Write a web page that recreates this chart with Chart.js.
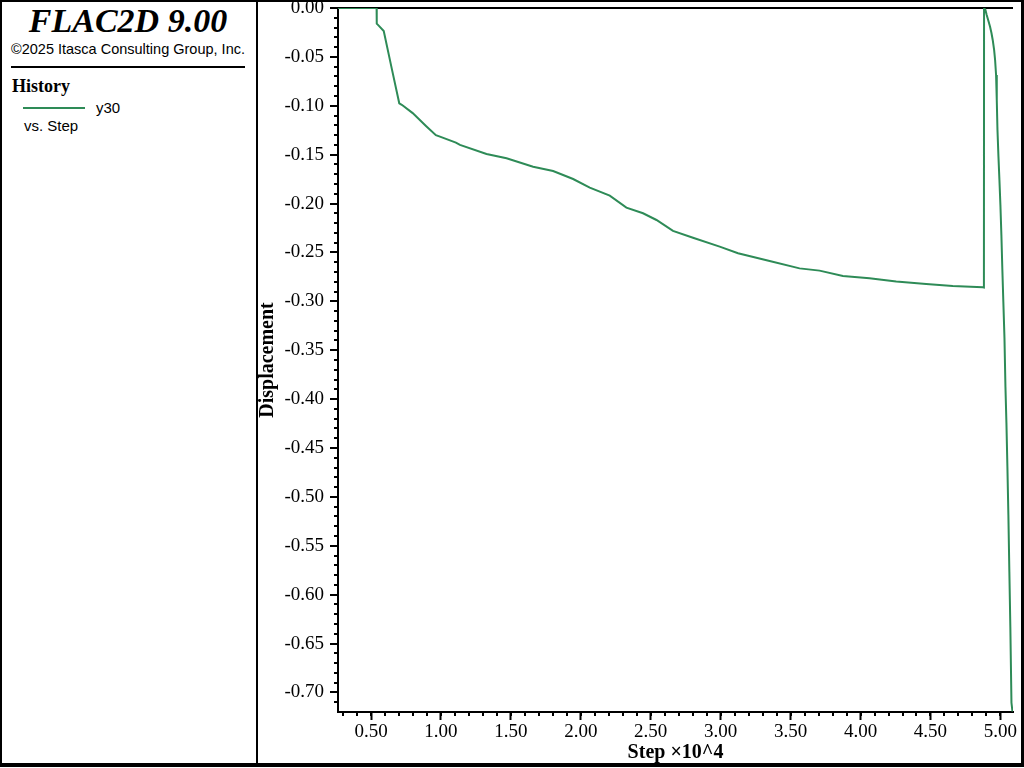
<!DOCTYPE html>
<html>
<head>
<meta charset="utf-8">
<script src="https://cdn.jsdelivr.net/npm/chart.js@4.4.1/dist/chart.umd.min.js"></script>
<style>
  body { margin: 0; background: #fff; }
  #frame { position: absolute; left: 0; top: 0; width: 1024px; height: 767px; box-sizing: border-box;
           border: solid #000; border-width: 2px 3px 4px 2px; }
  #divider { position: absolute; left: 256px; top: 0; width: 2px; height: 767px; background: #000; }
  #chart { position: absolute; left: 258px; top: 0; }
  .t { position: absolute; white-space: nowrap; line-height: 1; color: #000; }
  .serif { font-family: "Liberation Serif", "Times New Roman", serif; }
  .sans { font-family: "Liberation Sans", Arial, sans-serif; }
</style>
</head>
<body>
<div id="frame"></div>
<div id="divider"></div>

<!-- left info panel -->
<div class="t serif" style="left:0;width:256px;text-align:center;top:4px;font-size:34px;font-weight:bold;font-style:italic;">FLAC2D 9.00</div>
<div class="t sans" style="left:0;width:256px;text-align:center;top:42px;font-size:14.5px;">&copy;2025 Itasca Consulting Group, Inc.</div>
<div style="position:absolute;left:11px;top:66px;width:234px;height:2px;background:#000;"></div>
<div class="t serif" style="left:12px;top:77px;font-size:18px;font-weight:bold;">History</div>
<div style="position:absolute;left:23px;top:107px;width:62px;height:2px;background:#2e8b57;"></div>
<div class="t sans" style="left:96px;top:100px;font-size:15px;">y30</div>
<div class="t sans" style="left:24px;top:118px;font-size:15px;">vs. Step</div>

<canvas id="chart" width="763" height="763"></canvas>

<script>
// history y30: step (x10^4) vs displacement
const steps = [
  0.264, 0.540, 0.541, 0.555, 0.591, 0.650, 0.702, 0.720, 0.798, 0.893,
  0.964, 0.993, 1.107, 1.136, 1.326, 1.469, 1.659, 1.802, 1.945, 2.064,
  2.207, 2.326, 2.445, 2.541, 2.659, 2.802, 2.993, 3.124, 3.350, 3.564,
  3.707, 3.874, 4.064, 4.255, 4.469, 4.659, 4.874, 4.882, 4.883, 4.886,
  4.893, 4.902, 4.916, 4.926, 4.936, 4.945, 4.955, 4.962, 4.969, 4.974,
  4.979, 4.986, 4.993, 5.000, 5.007, 5.014, 5.021, 5.029, 5.036, 5.043,
  5.050, 5.057, 5.064, 5.071, 5.079, 5.086
];
const displacement = [
  0, 0, -0.016, -0.018, -0.0235, -0.063, -0.0975, -0.099, -0.1075, -0.1206,
  -0.130, -0.1316, -0.1377, -0.140, -0.1493, -0.1537, -0.1623, -0.1667, -0.1749, -0.1837,
  -0.1919, -0.2042, -0.2099, -0.2168, -0.2280, -0.2349, -0.2441, -0.2508, -0.2587, -0.2663,
  -0.2686, -0.2740, -0.2764, -0.2798, -0.2822, -0.2843, -0.2856, -0.2858, 0, 0,
  -0.002, -0.0072, -0.014, -0.0191, -0.0256, -0.0327, -0.0429, -0.0532, -0.0685, -0.094,
  -0.1247, -0.152, -0.176, -0.2014, -0.2321, -0.2679, -0.3006, -0.3374, -0.3875, -0.4243,
  -0.4693, -0.5184, -0.5767, -0.6329, -0.7106, -0.7195
];

// tick labels
const xTicks = [0.5, 1.0, 1.5, 2.0, 2.5, 3.0, 3.5, 4.0, 4.5, 5.0];
const yTicks = [0, -0.05, -0.10, -0.15, -0.20, -0.25, -0.30, -0.35, -0.40,
                -0.45, -0.50, -0.55, -0.60, -0.65, -0.70];

// minor tick positions
const xMinor = [];
for (let i = 3; i <= 50; i++) xMinor.push(i / 10);
const yMinor = [];
for (let i = 1; i <= 71; i++) yMinor.push(-i / 100);

const serif = '"Liberation Serif", "Times New Roman", serif';

// short minor ticks, drawn through the chart scales
const minorTicks = {
  id: 'minorTicks',
  afterDraw(chart) {
    const { ctx, chartArea, scales } = chart;
    ctx.save();
    ctx.strokeStyle = '#000';
    ctx.lineWidth = 2;
    ctx.beginPath();
    yMinor.forEach(v => {
      const p = Math.round(scales.y.getPixelForValue(v));
      ctx.moveTo(chartArea.left - 4, p);
      ctx.lineTo(chartArea.left, p);
    });
    xMinor.forEach(v => {
      const p = Math.round(scales.x.getPixelForValue(v));
      ctx.moveTo(p, chartArea.bottom);
      ctx.lineTo(p, chartArea.bottom + 4);
    });
    ctx.stroke();
    ctx.restore();
  }
};

const ctx = document.getElementById('chart').getContext('2d');
new Chart(ctx, {
  type: 'line',
  data: {
    datasets: [{
      label: 'y30',
      data: steps.map((s, i) => ({ x: s, y: displacement[i] })),
      borderColor: '#2e8b57',
      borderWidth: 2,
      pointRadius: 0,
      tension: 0,
      fill: false
    }]
  },
  options: {
    responsive: false,
    animation: false,
    layout: { padding: { top: 8, right: 8, bottom: 0, left: 0 } },
    plugins: { legend: { display: false }, tooltip: { enabled: false } },
    scales: {
      x: {
        type: 'linear',
        min: 0.264,
        max: 5.09,
        afterBuildTicks: s => { s.ticks = xTicks.map(v => ({ value: v })); },
        afterFit: s => { s.height = 51; },
        ticks: {
          callback: v => v.toFixed(2),
          font: { family: serif, size: 19 },
          color: '#000',
          padding: 1,
          maxRotation: 0,
          autoSkip: false
        },
        grid: { drawOnChartArea: false, tickLength: 8, tickColor: '#000', tickWidth: 2 },
        border: { color: '#000', width: 2 },
        title: {
          display: true,
          text: 'Step \u00d710^4',
          color: '#000',
          font: { family: serif, size: 20, weight: 'bold', lineHeight: 1 },
          padding: { top: 0, bottom: 0 }
        }
      },
      y: {
        type: 'linear',
        min: -0.72,
        max: 0,
        afterBuildTicks: s => { s.ticks = yTicks.map(v => ({ value: v })); },
        afterFit: s => { s.width = 80; },
        ticks: {
          callback: v => v.toFixed(2),
          font: { family: serif, size: 19, lineHeight: 0.05 },
          color: '#000',
          padding: 6,
          autoSkip: false
        },
        grid: {
          color: c => (c.tick && c.tick.value === 0 ? '#000' : 'rgba(0,0,0,0)'),
          lineWidth: 2,
          tickLength: 8,
          tickColor: '#000',
          tickWidth: 2
        },
        border: { color: '#000', width: 2 },
        title: {
          display: true,
          text: 'Displacement',
          color: '#000',
          font: { family: serif, size: 20, weight: 'bold', lineHeight: 1 },
          padding: { top: 0, bottom: 0 }
        }
      }
    }
  },
  plugins: [minorTicks]
});
</script>
</body>
</html>
